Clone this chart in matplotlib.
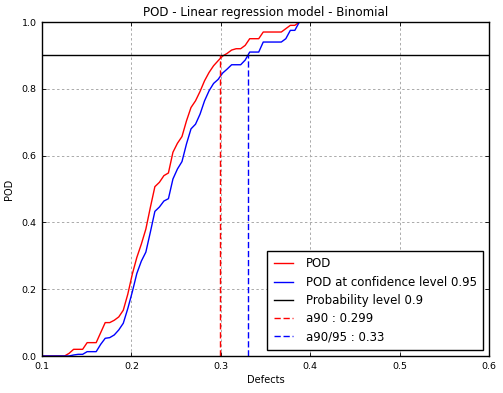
import numpy as np
import matplotlib
matplotlib.use("Agg")
import matplotlib.pyplot as plt

# Defect sizes (grid of 100 points between 0.1 and 0.6)
defects = np.linspace(0.1, 0.6, 100)

# POD curve (first 58 points, the rest sits at 1.0)
pod = [0.0, 0.0, 0.0, 0.0, 0.0, 0.0, 0.008, 0.02, 0.02, 0.02,
       0.04, 0.04, 0.04, 0.07, 0.10, 0.10, 0.107, 0.117, 0.137, 0.185,
       0.245, 0.295, 0.335, 0.38, 0.445, 0.507, 0.52, 0.54, 0.548, 0.61,
       0.637, 0.657, 0.704, 0.744, 0.764, 0.792, 0.824, 0.849, 0.869, 0.884,
       0.898, 0.906, 0.916, 0.92, 0.92, 0.93, 0.95, 0.95, 0.95, 0.97,
       0.97, 0.97, 0.97, 0.97, 0.98, 0.99, 0.99, 1.0]
pod_conf = [0.0, 0.0, 0.0, 0.0, 0.0, 0.0, 0.0, 0.003, 0.005, 0.005,
            0.013, 0.013, 0.013, 0.035, 0.053, 0.055, 0.063, 0.078, 0.098, 0.142,
            0.192, 0.247, 0.284, 0.311, 0.371, 0.433, 0.446, 0.464, 0.471, 0.53,
            0.56, 0.582, 0.635, 0.68, 0.694, 0.724, 0.764, 0.794, 0.816, 0.828,
            0.847, 0.859, 0.872, 0.872, 0.872, 0.886, 0.91, 0.91, 0.91, 0.94,
            0.94, 0.94, 0.94, 0.94, 0.95, 0.975, 0.975, 1.0]
pod = np.array(pod + [1.0] * (len(defects) - len(pod)))
pod_conf = np.array(pod_conf + [1.0] * (len(defects) - len(pod_conf)))

prob_level = 0.9
conf_level = 0.95
a90 = 0.299
a9095 = 0.33

fig = plt.figure(figsize=(5.03, 3.93), dpi=100)
ax = fig.add_axes([42 / 503, 1 - 356 / 393, 447 / 503, 334 / 393])

lw = 1.0
ax.plot(defects, pod, color="red", lw=lw, label="POD")
ax.plot(defects, pod_conf, color="blue", lw=lw,
        label="POD at confidence level %s" % conf_level)
ax.axhline(prob_level, color="black", lw=lw,
           label="Probability level %s" % prob_level)
ax.plot([a90, a90], [0, prob_level], color="red", lw=lw, dashes=(4.5, 2),
        label="a90 : %s" % a90)
ax.plot([a9095, a9095], [0, prob_level], color="blue", lw=lw, dashes=(4.5, 2),
        label="a90/95 : %s" % a9095)

ax.set_xlim(0.1, 0.6)
ax.set_ylim(0, 1)
ax.set_xticks([0.1, 0.2, 0.3, 0.4, 0.5, 0.6])
ax.set_yticks([0.0, 0.2, 0.4, 0.6, 0.8, 1.0])
ax.tick_params(direction="in", top=True, right=True, labelsize=6.8,
               length=3, width=0.6, pad=4)
ax.grid(True, color="#aaaaaa", linestyle=(0, (2.5, 2.5)), lw=0.7)
for s in ax.spines.values():
    s.set_linewidth(1.0)

ax.set_title("POD - Linear regression model - Binomial", fontsize=8.6, pad=4)
ax.set_xlabel("Defects", fontsize=7.1, labelpad=3)
ax.set_ylabel("POD", fontsize=7.1, labelpad=5)

leg = ax.legend(loc="lower right", fontsize=8.5, handlelength=1.6,
                handletextpad=1.1, labelspacing=0.45, borderpad=0.55,
                fancybox=False, framealpha=1, borderaxespad=0.5)
leg.get_frame().set_edgecolor("black")
leg.get_frame().set_linewidth(1.0)

fig.savefig("out.png", dpi=100, facecolor="white")
